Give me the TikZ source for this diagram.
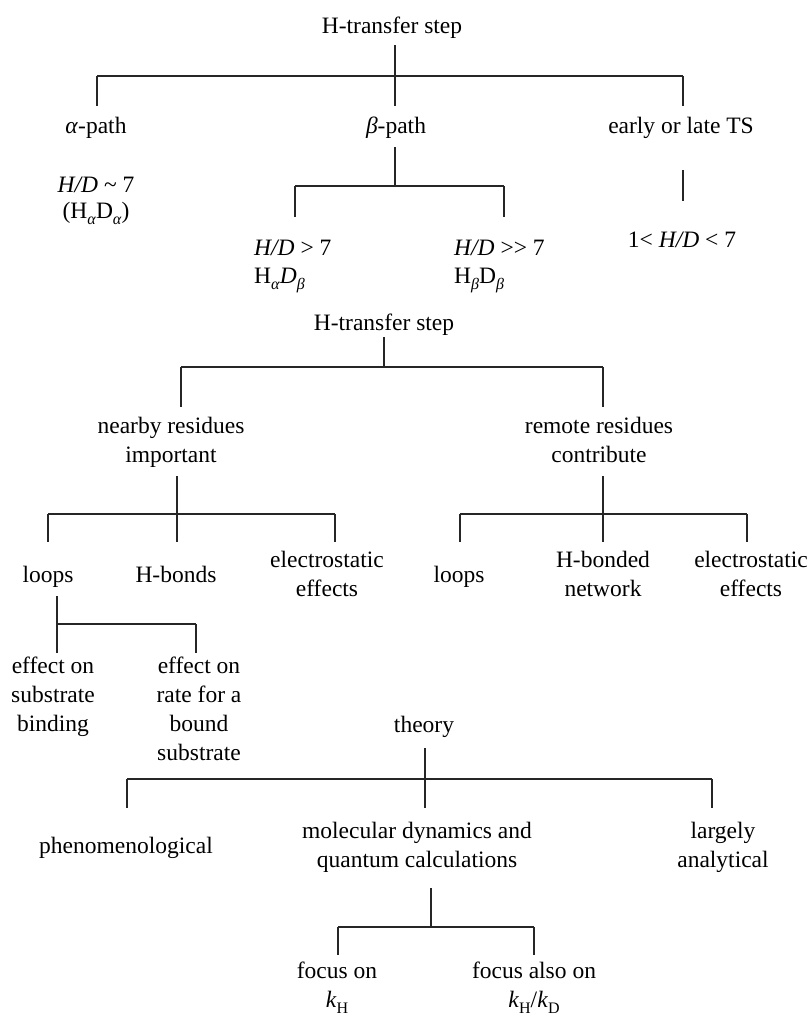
\documentclass[tikz,border=0pt]{standalone}
\usepackage{fontspec}
\setmainfont{Liberation Serif}
\newcommand\lowsub[1]{\raisebox{-6pt}{\fontsize{16}{16}\selectfont #1}}
\newcommand\mlines[2][c]{\begin{tabular}[t]{@{}#1@{}}#2\end{tabular}}
\begin{document}
\begin{tikzpicture}[x=1pt,y=-1pt,
  lbl/.style={inner sep=0pt, anchor=base, font=\fontsize{23.5}{29}\selectfont},
  lblw/.style={lbl, anchor=base west},
  conn/.style={line width=1.1pt, draw=black!85}]
\useasboundingbox (0,0) rectangle (808,1017);

% ---------- tree 1 ----------
\node[lbl] (top1) at (392,33) {H-transfer step};
\node[lbl] (alpha) at (96,133) {\textit{α}-path};
\node[lbl] (beta) at (396,133) {\textit{β}-path};
\node[lbl] (early) at (681,133) {early or late TS};
\node[lbl] (hd7) at (96,192) {\mlines{\textit{H/D} \textasciitilde\ 7\\[-3pt](H\lowsub{\textit{α}}D\lowsub{\textit{α}})}};
\node[lblw] (hdgt) at (254,255) {\mlines[l]{\textit{H/D} \mbox{>} 7\\[-1pt]H\lowsub{\textit{α}}\textit{D}\lowsub{\textit{β}}}};
\node[lblw] (hdgg) at (454,255) {\mlines[l]{\textit{H/D} \mbox{>}\mbox{>} 7\\[-1pt]H\lowsub{\textit{β}}D\lowsub{\textit{β}}}};
\node[lbl] (range) at (682,247) {1\mbox{<} \textit{H/D} \mbox{<} 7};

\coordinate (t1s) at (395,45);  \coordinate (t1j) at (395,76);
\coordinate (t1L) at (97,76);   \coordinate (t1R) at (683,76);
\coordinate (t1La) at (97,106); \coordinate (t1Ma) at (395,106); \coordinate (t1Ra) at (683,106);
\draw[conn] (t1s) -- (t1j) (t1L) -- (t1R) (t1L) -- (t1La) (t1j) -- (t1Ma) (t1R) -- (t1Ra);

\coordinate (bs) at (395,147); \coordinate (bj) at (395,186);
\coordinate (bL) at (295,186); \coordinate (bR) at (504,186);
\coordinate (bLa) at (295,217); \coordinate (bRa) at (504,217);
\draw[conn] (bs) -- (bj) (bL) -- (bR) (bL) -- (bLa) (bR) -- (bRa);

\coordinate (es) at (683,170); \coordinate (ee) at (683,201);
\draw[conn] (es) -- (ee);

% ---------- tree 2 ----------
\node[lbl] (top2) at (384,330) {H-transfer step};
\node[lbl] (near) at (171,433) {\mlines{nearby residues\\important}};
\node[lbl] (remote) at (599,433) {\mlines{remote residues\\contribute}};
\node[lbl] (loopsA) at (48,582) {loops};
\node[lbl] (hbonds) at (176,582) {H-bonds};
\node[lbl] (elecA) at (327,567) {\mlines{electrostatic\\effects}};
\node[lbl] (loopsB) at (459,582) {loops};
\node[lbl] (hnet) at (603,567) {\mlines{H-bonded\\network}};
\node[lbl] (elecB) at (751,567) {\mlines{electrostatic\\effects}};
\node[lbl] (bind) at (53,673) {\mlines{effect on\\substrate\\binding}};
\node[lbl] (rate) at (199,673) {\mlines{effect on\\rate for a\\bound\\substrate}};

\coordinate (us) at (384,337); \coordinate (uj) at (384,367);
\coordinate (uL) at (181,367); \coordinate (uR) at (603,367);
\coordinate (uLa) at (181,407); \coordinate (uRa) at (603,407);
\draw[conn] (us) -- (uj) (uL) -- (uR) (uL) -- (uLa) (uR) -- (uRa);

\coordinate (ns) at (177,476); \coordinate (nj) at (177,514);
\coordinate (nL) at (48,514);  \coordinate (nR) at (335,514);
\coordinate (nLa) at (48,542); \coordinate (nMa) at (177,542); \coordinate (nRa) at (335,542);
\draw[conn] (ns) -- (nj) (nL) -- (nR) (nL) -- (nLa) (nj) -- (nMa) (nR) -- (nRa);

\coordinate (rs) at (603,476); \coordinate (rj) at (603,514);
\coordinate (rL) at (460,514); \coordinate (rR) at (747,514);
\coordinate (rLa) at (460,542); \coordinate (rMa) at (603,542); \coordinate (rRa) at (747,542);
\draw[conn] (rs) -- (rj) (rL) -- (rR) (rL) -- (rLa) (rj) -- (rMa) (rR) -- (rRa);

\coordinate (ls) at (57,596); \coordinate (lL) at (57,624); \coordinate (lR) at (196,624);
\coordinate (lLa) at (57,653); \coordinate (lRa) at (196,653);
\draw[conn] (ls) -- (lL) -- (lR) (lL) -- (lLa) (lR) -- (lRa);

% ---------- tree 3 ----------
\node[lbl] (theory) at (424,732) {theory};
\node[lbl] (phen) at (126,853) {phenomenological};
\node[lbl] (mdq) at (417,838) {\mlines{molecular dynamics and\\quantum calculations}};
\node[lbl] (anal) at (723,838) {\mlines{largely\\analytical}};
\node[lbl] (fkh) at (337,978) {\mlines{focus on\\\textit{k}\lowsub{H}}};
\node[lbl] (fkd) at (534,978) {\mlines{focus also on\\\textit{k}\lowsub{H}/\textit{k}\lowsub{D}}};

\coordinate (ts) at (425,748); \coordinate (tj) at (425,779);
\coordinate (tL) at (127,779); \coordinate (tR) at (712,779);
\coordinate (tLa) at (127,808); \coordinate (tMa) at (425,808); \coordinate (tRa) at (712,808);
\draw[conn] (ts) -- (tj) (tL) -- (tR) (tL) -- (tLa) (tj) -- (tMa) (tR) -- (tRa);

\coordinate (ms) at (431,888); \coordinate (mj) at (431,927);
\coordinate (mL) at (338,927); \coordinate (mR) at (534,927);
\coordinate (mLa) at (338,955); \coordinate (mRa) at (534,955);
\draw[conn] (ms) -- (mj) (mL) -- (mR) (mL) -- (mLa) (mR) -- (mRa);
\end{tikzpicture}
\end{document}
